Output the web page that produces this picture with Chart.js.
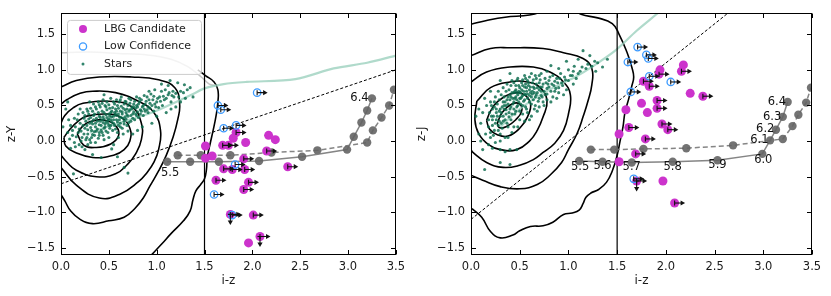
<!DOCTYPE html>
<html><head><meta charset="utf-8">
<script src="https://cdn.jsdelivr.net/npm/chart.js@4.4.0/dist/chart.umd.min.js"></script>
<style>
body{margin:0;background:#fff;width:831px;height:296px;overflow:hidden;position:relative}
canvas{position:absolute;top:0}
#c1{left:0}#c2{left:410px}
</style></head>
<body>
<canvas id="c1" width="410" height="296"></canvas>
<canvas id="c2" width="421" height="296"></canvas>
<script>
// ---------- axes ----------
const xTicks=[0,0.5,1,1.5,2,2.5,3,3.5];
const yTicks=[-1.5,-1,-0.5,0,0.5,1,1.5];
const xTitle='i-z';
const yTitleLeft='z-Y';
const yTitleRight='z-J';
const legendLabels=['LBG Candidate','Low Confidence','Stars'];
const colourCut=1.5;

// ---------- left panel (z-Y) ----------
const L_lbg=[[1.83,0.12],[1.80,0.04],[1.93,-0.02],[2.17,0.08],[2.24,0.02],[1.69,-0.06],[1.75,-0.06],[1.51,-0.07],[2.15,-0.14],[1.58,-0.21],[1.51,-0.24],[1.91,-0.25],[1.70,-0.39],[1.79,-0.40],[1.92,-0.40],[2.37,-0.36],[1.62,-0.55],[1.96,-0.58],[1.91,-0.68],[1.77,-1.03],[2.01,-1.04],[2.08,-1.34],[1.96,-1.43]];
const L_lbgLim=['r','','','','','r','r','','r','','','r','r','r','r','r','r','r','r','rd','r','rd',''];
const L_low=[[2.05,0.68],[1.64,0.50],[1.67,0.44],[1.70,0.18],[1.83,0.22],[1.82,-0.33],[1.60,-0.75],[1.79,-1.04]];
const L_lowLim=['r','r','r','r','r','r','r','r'];
const L_solid=[[1.11,-0.29],[1.35,-0.29],[1.65,-0.29],[2.07,-0.28],[2.52,-0.22],[2.99,-0.12],[3.06,0.06],[3.14,0.26],[3.20,0.43],[3.25,0.60]];
const L_dashed=[[1.22,-0.20],[1.46,-0.20],[1.77,-0.20],[2.20,-0.16],[2.68,-0.13],[3.20,-0.02],[3.26,0.15],[3.35,0.33],[3.43,0.50],[3.48,0.72]];
const L_zLab=[['5.5',1.14,-0.45],['6.4',3.12,0.61]];
const L_cut=[[0,-0.6],[3.5,1.0]];
const L_green=[[0.30,0.12],[0.60,0.25],[0.95,0.40],[1.22,0.56],[1.38,0.66],[1.50,0.74],[1.70,0.80],[1.94,0.83],[2.45,0.87],[2.85,1.02],[3.20,1.10],[3.50,1.20]];
const L_grey=[[0,1.24],[0.30,1.25],[0.60,1.23],[0.90,1.21],[1.15,1.15],[1.32,1.05],[1.45,0.92],[1.55,0.80],[1.62,0.78]];
const L_cont0=[[0.93,-1.62],[1.05,-1.45],[1.15,-1.30],[1.28,-1.12],[1.35,-0.98],[1.38,-0.82],[1.41,-0.70],[1.46,-0.61],[1.50,-0.53],[1.52,-0.40],[1.53,-0.22],[1.56,-0.03],[1.59,0.15],[1.62,0.35],[1.64,0.55],[1.64,0.72],[1.60,0.83],[1.51,0.92],[1.43,1.00]];
const L_cont1=[[0,0.76],[0.16,0.85],[0.40,0.90],[0.74,0.90],[1.02,0.86],[1.19,0.75],[1.24,0.52],[1.22,0.30],[1.17,0.05],[1.10,-0.20],[1.02,-0.42],[0.93,-0.63],[0.86,-0.80],[0.77,-0.95],[0.66,-1.07],[0.50,-1.12],[0.33,-1.16],[0.20,-1.10],[0.10,-0.98],[0.04,-0.84],[0,-0.75]];
const L_cont2=[[0,0.52],[0.06,0.58],[0.20,0.67],[0.33,0.70],[0.57,0.68],[0.81,0.56],[0.97,0.40],[1.04,0.15],[1.02,-0.12],[0.97,-0.30],[0.90,-0.44],[0.81,-0.57],[0.61,-0.75],[0.40,-0.80],[0.16,-0.62],[0,-0.37]];
const L_cont3=[[0,0.25],[0.04,0.36],[0.13,0.47],[0.23,0.53],[0.50,0.56],[0.74,0.48],[0.84,0.25],[0.84,0.02],[0.78,-0.18],[0.70,-0.32],[0.57,-0.46],[0.37,-0.50],[0.16,-0.41],[0.05,-0.28],[0,-0.20]];
const L_cont4=[[0.03,0.05],[0.09,0.16],[0.18,0.28],[0.27,0.35],[0.47,0.38],[0.63,0.33],[0.72,0.18],[0.72,0.00],[0.66,-0.12],[0.55,-0.20],[0.33,-0.23],[0.15,-0.16],[0.05,-0.07],[0.03,0.05]];
const L_cont5=[[0.17,0.10],[0.22,0.20],[0.30,0.27],[0.47,0.29],[0.58,0.20],[0.60,0.07],[0.52,-0.04],[0.37,-0.09],[0.24,-0.06],[0.17,0.10]];
const L_stars=[[0.18,0.12],[0.22,0.05],[0.25,0.18],[0.28,0.10],[0.30,0.25],[0.32,0.15],[0.34,0.30],[0.35,0.08],[0.36,0.20],[0.38,0.28],[0.40,0.12],[0.40,0.35],[0.42,0.22],[0.43,0.30],[0.45,0.18],[0.45,0.40],[0.47,0.27],[0.48,0.33],[0.50,0.22],[0.50,0.38],[0.52,0.30],[0.53,0.42],[0.55,0.25],[0.55,0.35],[0.57,0.45],[0.58,0.30],[0.60,0.38],[0.60,0.22],[0.62,0.42],[0.63,0.33],[0.65,0.46],[0.66,0.28],[0.68,0.40],[0.70,0.35],[0.70,0.50],[0.72,0.44],[0.75,0.38],[0.76,0.52],[0.78,0.46],[0.80,0.41],[0.82,0.55],[0.85,0.48],[0.88,0.52],[0.90,0.44],[0.92,0.58],[0.95,0.50],[1.00,0.55],[1.03,0.62],[1.08,0.58],[1.12,0.65],[1.18,0.62],[1.25,0.70],[1.32,0.72],
[0.20,0.25],[0.24,0.32],[0.26,0.02],[0.29,0.38],[0.31,-0.02],[0.33,0.42],[0.37,0.45],[0.39,0.04],[0.41,0.48],[0.44,0.08],[0.46,0.50],[0.49,0.12],[0.51,0.46],[0.54,0.15],[0.56,0.52],[0.59,0.12],[0.61,0.55],[0.64,0.18],[0.67,0.56],[0.69,0.22],[0.73,0.28],[0.77,0.30],[0.81,0.33],[0.86,0.36],[0.91,0.40],[0.97,0.42],[1.02,0.47],[1.06,0.50],[1.15,0.55],
[0.15,0.20],[0.12,0.08],[0.14,-0.02],[0.17,0.30],[0.19,-0.05],[0.23,0.40],[0.27,0.45],[0.34,0.52],[0.39,0.55],[0.44,0.58],[0.48,0.55],[0.52,0.60],[0.58,0.58],[0.63,0.62],[0.71,0.60],[0.79,0.62],[0.87,0.64],[0.94,0.66],[1.05,0.70],
[0.27,0.22],[0.33,0.24],[0.37,0.14],[0.41,0.28],[0.44,0.34],[0.46,0.24],[0.49,0.29],[0.51,0.35],[0.53,0.27],[0.56,0.40],[0.58,0.36],[0.61,0.30],[0.64,0.38],[0.67,0.34],[0.69,0.45],[0.74,0.48],[0.79,0.50],[0.84,0.42],[0.31,0.33],[0.35,0.38],
[0.08,0.30],[0.05,0.45],[0.10,-0.10],[0.25,-0.12],[0.33,-0.19],[0.42,-0.23],[0.53,-0.11],[0.55,-0.05],[0.59,-0.22],[0.66,-0.37],[0.70,-0.45],[0.13,-0.46],[0.75,0.10],[0.85,0.20],[0.95,0.25],[1.10,0.40],[1.20,0.48],[1.14,0.85],[1.29,0.79],[1.38,0.62],[1.05,0.80],[0.98,0.72],[0.60,0.05],[0.80,0.15],[1.25,0.55],[0.45,0.65],[0.30,0.55],[0.02,0.20],[0.07,0.55]];
const L_stars2=[[0.21,0.14],[0.23,0.22],[0.26,0.28],[0.28,0.16],[0.29,0.31],[0.31,0.19],[0.32,0.27],[0.33,0.09],[0.34,0.36],[0.36,0.25],[0.37,0.32],[0.38,0.17],[0.39,0.40],[0.40,0.23],[0.41,0.33],[0.42,0.15],[0.43,0.42],[0.44,0.26],[0.45,0.31],[0.46,0.20],[0.47,0.37],[0.48,0.44],[0.49,0.25],[0.50,0.31],[0.51,0.18],[0.52,0.40],[0.53,0.34],[0.54,0.47],[0.55,0.30],[0.56,0.22],[0.57,0.38],[0.58,0.42],[0.59,0.27],[0.60,0.46],[0.61,0.34],[0.62,0.25],[0.63,0.49],[0.64,0.41],[0.65,0.32],[0.66,0.52],[0.67,0.44],[0.68,0.31],[0.69,0.37],[0.71,0.42],[0.72,0.53],[0.73,0.36],[0.74,0.45],[0.76,0.41],[0.77,0.56],[0.78,0.38],[0.80,0.48],[0.81,0.52],[0.83,0.44],[0.84,0.58],[0.86,0.50],[0.87,0.45],[0.89,0.56],[0.91,0.48],[0.93,0.53],[0.96,0.58],[0.98,0.52],[1.01,0.60],[1.04,0.56],[1.07,0.63],[1.10,0.60],[1.13,0.68],[1.16,0.64],[1.20,0.67],[1.23,0.62],[1.28,0.68],
[0.16,0.06],[0.19,0.17],[0.21,0.00],[0.24,0.10],[0.27,0.05],[0.30,0.02],[0.32,0.05],[0.35,0.13],[0.40,0.08],[0.43,0.12],[0.47,0.14],[0.52,0.22],[0.57,0.17],[0.62,0.20],[0.66,0.24],[0.71,0.26],[0.75,0.32],[0.79,0.36],[0.83,0.38],[0.88,0.42],[0.93,0.46],[0.99,0.48],
[0.25,0.36],[0.28,0.42],[0.31,0.46],[0.36,0.48],[0.40,0.51],[0.43,0.53],[0.47,0.48],[0.50,0.51],[0.55,0.55],[0.59,0.50],[0.62,0.58],[0.68,0.55],[0.73,0.58],[0.76,0.48],[0.82,0.60],[0.90,0.62],[0.97,0.63],[1.09,0.72],[1.17,0.70],
[0.12,0.15],[0.10,0.22],[0.14,0.32],[0.18,0.38],[0.20,0.45],[0.09,0.03],[0.07,0.12],[0.15,-0.08],[0.22,-0.08],[0.28,-0.05],[0.36,-0.02],[0.45,0.02],[0.50,0.05],[0.65,0.10],[0.70,0.14],[1.00,0.35],[1.15,0.45],[1.30,0.60],[1.35,0.75],[1.22,0.82],[0.92,0.70],[1.12,0.78]];

// ---------- right panel (z-J) ----------
const R_lbg=[[2.18,1.07],[2.16,0.98],[1.94,1.00],[1.93,0.94],[1.77,0.84],[1.83,0.77],[2.25,0.67],[2.38,0.63],[1.75,0.53],[1.91,0.57],[1.91,0.46],[1.81,0.40],[1.59,0.44],[1.62,0.19],[1.96,0.24],[2.02,0.16],[1.52,0.10],[1.79,0.03],[1.69,-0.18],[1.52,-0.29],[1.70,-0.56],[1.97,-0.56],[2.09,-0.87]];
const R_lbgLim=['','r','','r','r','r','','r','','r','r','','','r','r','r','','r','r','','rd','','r'];
const R_low=[[1.71,1.32],[1.80,1.21],[1.82,1.16],[1.61,1.11],[1.83,0.91],[2.05,0.83],[1.64,0.69],[1.67,-0.53]];
const R_lowLim=['r','r','r','r','r','r','r','r'];
const R_solid=[[1.11,-0.28],[1.35,-0.29],[1.65,-0.30],[2.07,-0.29],[2.53,-0.27],[2.99,-0.18],[3.07,0.01],[3.13,0.16],[3.20,0.34],[3.25,0.55]];
const R_dashed=[[1.23,-0.12],[1.47,-0.12],[1.77,-0.11],[2.21,-0.10],[2.69,-0.06],[3.20,0.03],[3.30,0.21],[3.36,0.37],[3.44,0.54],[3.49,0.75]];
const R_zLab=[['5.5',1.12,-0.36],['5.6',1.35,-0.35],['5.7',1.65,-0.37],['5.8',2.07,-0.37],['5.9',2.53,-0.34],['6.0',3.00,-0.26],['6.1',2.96,0.02],['6.2',3.02,0.17],['6.3',3.09,0.34],['6.4',3.14,0.55]];
const R_cut=[[0,-1.1],[2.64,1.8]];
const R_green=[[0.30,0.20],[0.50,0.45],[0.75,0.68],[0.95,0.82],[1.07,0.90],[1.25,1.05],[1.48,1.27],[1.70,1.55],[1.92,1.80],[2.00,1.90]];
const R_cont0=[[0,1.64],[0.15,1.69],[0.35,1.74],[0.60,1.77],[0.75,1.83],[0.90,1.92],[1.05,1.86],[1.13,1.78],[1.30,1.73],[1.45,1.65],[1.52,1.50],[1.60,1.25],[1.65,1.04],[1.67,0.90],[1.65,0.77],[1.62,0.60],[1.58,0.40],[1.56,0.20],[1.53,0.00],[1.50,-0.20],[1.45,-0.42],[1.39,-0.58],[1.31,-0.68],[1.23,-0.73],[1.18,-0.79],[1.15,-0.88],[1.11,-0.97],[1.04,-1.01],[0.95,-1.03],[0.84,-1.14],[0.74,-1.19],[0.61,-1.20],[0.50,-1.26],[0.43,-1.32],[0.30,-1.36],[0.20,-1.27],[0.11,-1.07],[0.01,-0.95]];
const R_cont1=[[0,1.20],[0.20,1.30],[0.40,1.31],[0.74,1.30],[0.95,1.24],[1.15,1.16],[1.24,1.02],[1.24,0.79],[1.20,0.56],[1.15,0.34],[1.09,0.11],[1.00,-0.12],[0.93,-0.30],[0.81,-0.48],[0.68,-0.61],[0.50,-0.67],[0.30,-0.64],[0.12,-0.55],[0,-0.48]];
const R_cont2=[[0,0.83],[0.16,0.97],[0.40,1.04],[0.64,1.04],[0.81,0.97],[0.95,0.83],[1.02,0.65],[1.00,0.38],[0.95,0.15],[0.86,-0.03],[0.74,-0.16],[0.64,-0.26],[0.50,-0.34],[0.33,-0.37],[0.16,-0.30],[0.02,-0.16],[0,-0.12]];
const R_cont3=[[0.06,0.56],[0.20,0.75],[0.40,0.83],[0.58,0.83],[0.71,0.75],[0.78,0.56],[0.74,0.34],[0.68,0.15],[0.60,0.00],[0.47,-0.12],[0.30,-0.12],[0.18,-0.05],[0.08,0.10],[0.04,0.30],[0.06,0.56]];
const R_cont4=[[0.16,0.29],[0.20,0.42],[0.27,0.55],[0.40,0.66],[0.53,0.66],[0.61,0.53],[0.58,0.34],[0.50,0.18],[0.38,0.07],[0.27,0.09],[0.19,0.17],[0.16,0.29]];
const R_cont5=[[0.27,0.25],[0.32,0.40],[0.42,0.52],[0.50,0.52],[0.52,0.42],[0.46,0.30],[0.36,0.20],[0.29,0.19],[0.27,0.25]];
const R_stars=[[0.15,0.10],[0.18,0.20],[0.20,0.05],[0.22,0.30],[0.24,0.15],[0.26,0.40],[0.28,0.22],[0.30,0.35],[0.30,0.10],[0.32,0.48],[0.33,0.28],[0.35,0.55],[0.36,0.38],[0.38,0.20],[0.38,0.62],[0.40,0.45],[0.41,0.30],[0.42,0.68],[0.43,0.52],[0.45,0.60],[0.45,0.38],[0.46,0.72],[0.47,0.48],[0.48,0.65],[0.49,0.55],[0.50,0.42],[0.50,0.75],[0.52,0.62],[0.53,0.50],[0.54,0.70],[0.55,0.58],[0.56,0.80],[0.57,0.45],[0.58,0.66],[0.60,0.72],[0.60,0.55],[0.62,0.62],[0.63,0.82],[0.65,0.68],[0.66,0.50],[0.68,0.75],[0.70,0.60],[0.72,0.70],[0.74,0.80],[0.76,0.65],[0.78,0.74],[0.80,0.85],[0.82,0.70],[0.85,0.78],[0.88,0.88],[0.90,0.75],[0.93,0.82],[0.96,0.90],[1.00,0.85],[1.04,0.92],[1.08,0.88],[1.12,0.98],[1.18,1.02],[1.24,1.05],[1.30,1.10],[1.35,1.04],[1.15,1.27],[0.82,1.06],
[0.10,0.25],[0.12,0.40],[0.16,0.50],[0.20,0.55],[0.25,0.62],[0.28,0.70],[0.33,0.75],[0.37,0.80],[0.42,0.85],[0.48,0.88],[0.55,0.92],[0.62,0.95],[0.70,0.92],[0.78,0.98],[0.35,0.05],[0.42,0.12],[0.48,0.20],[0.55,0.28],[0.62,0.35],[0.68,0.42],[0.75,0.50],[0.82,0.55],[0.88,0.60],[0.95,0.65],[0.25,-0.02],[0.18,-0.05],[0.12,-0.12],[0.30,-0.12],[0.40,-0.12],[0.47,-0.12],[0.14,-0.40],[0.30,-0.30],[0.40,-0.33],[0.08,0.10],[0.05,0.35],[0.22,0.45],[0.27,0.52],[0.34,0.62],[0.40,0.58],[0.46,0.78],[0.52,0.82],[0.58,0.85],[0.64,0.58],[0.70,0.82],[0.76,0.88],[0.84,0.92],[0.92,0.95],[1.00,1.00],[1.06,1.05],[0.30,0.45],[0.36,0.50],[0.44,0.45],[0.51,0.68],[0.57,0.75],[0.63,0.70],[0.67,0.88],[0.73,0.62],[0.79,0.80],[0.86,0.70],
[0.26,0.30],[0.29,0.42],[0.31,0.25],[0.34,0.45],[0.37,0.58],[0.39,0.40],[0.41,0.62],[0.44,0.68],[0.47,0.58],[0.49,0.70],[0.51,0.60],[0.53,0.78],[0.56,0.65],[0.59,0.78],[0.61,0.68],[0.64,0.76],[0.67,0.65],[0.71,0.76],[0.21,0.35],[0.24,0.48]];
const R_stars2=[[0.20,0.12],[0.22,0.22],[0.23,0.08],[0.25,0.25],[0.27,0.35],[0.28,0.15],[0.29,0.28],[0.31,0.40],[0.32,0.18],[0.33,0.35],[0.34,0.50],[0.35,0.30],[0.36,0.44],[0.37,0.25],[0.38,0.52],[0.39,0.34],[0.40,0.65],[0.41,0.48],[0.42,0.38],[0.43,0.60],[0.44,0.55],[0.45,0.70],[0.46,0.42],[0.46,0.62],[0.47,0.68],[0.48,0.50],[0.49,0.78],[0.50,0.60],[0.51,0.52],[0.52,0.72],[0.53,0.64],[0.54,0.56],[0.55,0.76],[0.55,0.66],[0.56,0.48],[0.57,0.70],[0.58,0.60],[0.59,0.82],[0.60,0.64],[0.61,0.76],[0.62,0.52],[0.63,0.66],[0.64,0.86],[0.65,0.74],[0.66,0.62],[0.67,0.80],[0.68,0.68],[0.69,0.56],[0.70,0.72],[0.71,0.86],[0.72,0.64],[0.73,0.76],[0.75,0.70],[0.77,0.82],[0.78,0.66],[0.80,0.76],[0.81,0.90],[0.83,0.80],[0.86,0.84],[0.87,0.74],[0.89,0.82],[0.91,0.88],[0.94,0.78],[0.97,0.86],[1.02,0.92],[1.05,0.98],[1.10,0.95],[1.14,1.04],[1.20,1.08],[1.27,1.12],
[0.18,0.30],[0.19,0.40],[0.21,0.50],[0.23,0.35],[0.24,0.55],[0.26,0.45],[0.29,0.58],[0.31,0.65],[0.33,0.55],[0.36,0.70],[0.39,0.72],[0.41,0.78],[0.44,0.82],[0.47,0.85],[0.50,0.68],[0.53,0.86],[0.56,0.88],[0.60,0.90],[0.66,0.92],[0.72,0.95],
[0.30,0.00],[0.38,0.05],[0.44,0.20],[0.50,0.30],[0.53,0.38],[0.58,0.40],[0.60,0.30],[0.65,0.45],[0.70,0.48],[0.74,0.55],[0.78,0.58],[0.84,0.62],[0.90,0.68],[0.98,0.72],[1.05,0.80],[0.22,-0.10],[0.35,-0.15],[0.10,0.00],[0.08,0.45],[0.14,0.60],[0.20,0.70],[0.30,0.85],[0.40,0.95],[0.90,1.02],[1.10,1.15],[1.22,1.20],[1.28,0.98],[1.40,1.15],[0.98,1.12]];

// ---------- helpers ----------
const pts=a=>a.map(p=>({x:p[0],y:p[1]}));
const fmt=v=>(Math.abs(v)<1e-9?0:v).toFixed(1).replace('-','\u2212');
const FONT='DejaVu Sans';

const extras={
  id:'extras',
  afterDatasetsDraw(chart,args,opts){
    const ctx=chart.ctx, xs=chart.scales.x, ys=chart.scales.y, ca=chart.chartArea;
    ctx.save();
    ctx.beginPath();ctx.rect(ca.left,ca.top,ca.right-ca.left,ca.bottom-ca.top);ctx.clip();
    ctx.strokeStyle='#111';ctx.fillStyle='#111';ctx.lineWidth=1.1;
    chart.data.datasets.forEach((ds,di)=>{
      if(!ds.limits) return;
      const meta=chart.getDatasetMeta(di);
      meta.data.forEach((el,i)=>{
        const f=ds.limits[i]||''; const x=el.x,y=el.y;
        if(f.includes('r')){
          ctx.beginPath();ctx.moveTo(x,y);ctx.lineTo(x+7,y);ctx.stroke();
          ctx.beginPath();ctx.moveTo(x,y-2.5);ctx.lineTo(x,y+2.5);ctx.stroke();
          ctx.beginPath();ctx.moveTo(x+10.5,y);ctx.lineTo(x+6,y-2.6);ctx.lineTo(x+6,y+2.6);ctx.closePath();ctx.fill();
        }
        if(f.includes('d')){
          ctx.beginPath();ctx.moveTo(x,y);ctx.lineTo(x,y+7);ctx.stroke();
          ctx.beginPath();ctx.moveTo(x-2.5,y);ctx.lineTo(x+2.5,y);ctx.stroke();
          ctx.beginPath();ctx.moveTo(x,y+10.5);ctx.lineTo(x-2.6,y+6);ctx.lineTo(x+2.6,y+6);ctx.closePath();ctx.fill();
        }
      });
    });
    ctx.fillStyle='#111';ctx.font='11.5px "'+FONT+'"';ctx.textAlign='center';ctx.textBaseline='middle';
    (opts.zLabels||[]).forEach(l=>{ctx.fillText(l[0],xs.getPixelForValue(l[1]),ys.getPixelForValue(l[2]));});
    ctx.restore();
    ctx.save();
    ctx.strokeStyle='#000';ctx.lineWidth=1;
    const L=Math.round(ca.left)+0.5,R=Math.round(ca.right)-0.5,T=Math.round(ca.top)+0.5,B=Math.round(ca.bottom)-0.5;
    ctx.strokeRect(L,T,R-L,B-T);
    const tl=4.5;
    ctx.beginPath();
    xTicks.forEach(v=>{const p=Math.round(xs.getPixelForValue(v))+0.5;ctx.moveTo(p,B);ctx.lineTo(p,B-tl);ctx.moveTo(p,T);ctx.lineTo(p,T+tl);});
    yTicks.forEach(v=>{const p=Math.round(ys.getPixelForValue(v))+0.5;ctx.moveTo(L,p);ctx.lineTo(L+tl,p);ctx.moveTo(R,p);ctx.lineTo(R-tl,p);});
    ctx.stroke();
    ctx.restore();
    if(opts.legend){
      const x0=ca.left+6,y0=ca.top+7,w=134,h=54;
      ctx.save();
      ctx.fillStyle='rgba(255,255,255,0.8)';ctx.strokeStyle='#cccccc';ctx.lineWidth=1;
      ctx.beginPath();ctx.roundRect(x0+0.5,y0+0.5,w,h,3);ctx.fill();ctx.stroke();
      ctx.font='11px "'+FONT+'"';ctx.textAlign='left';ctx.textBaseline='middle';
      const rows=[y0+9,y0+26.5,y0+44];
      const mx=x0+16,tx=x0+37;
      ctx.fillStyle='rgba(204,51,204,1)';ctx.beginPath();ctx.arc(mx,rows[0],4,0,Math.PI*2);ctx.fill();
      ctx.strokeStyle='#3d9bff';ctx.lineWidth=1.3;ctx.beginPath();ctx.arc(mx,rows[1],3.6,0,Math.PI*2);ctx.stroke();
      ctx.fillStyle='rgba(14,112,84,0.85)';ctx.beginPath();ctx.arc(mx,rows[2],1.5,0,Math.PI*2);ctx.fill();
      ctx.fillStyle='#222';
      legendLabels.forEach((t,i)=>ctx.fillText(t,tx,rows[i]));
      ctx.restore();
    }
  }
};

function buildPanel(canvasId, yTitle, P, withLegend, padRight){
  const contour=d=>({data:pts(d),showLine:true,borderColor:'#000',borderWidth:1.6,tension:0.45,pointRadius:0,order:9});
  const starStyle={pointRadius:1.55,pointBackgroundColor:'rgba(8,106,76,0.82)',pointBorderWidth:0,order:5};
  const datasets=[
    {label:legendLabels[0],data:pts(P.lbg),limits:P.lbgLim,pointRadius:4.5,pointBackgroundColor:'rgba(204,51,204,1)',pointBorderWidth:0,order:1},
    {label:legendLabels[1],data:pts(P.low),limits:P.lowLim,pointRadius:3.7,pointBackgroundColor:'rgba(0,0,0,0)',pointBorderColor:'#3d9bff',pointBorderWidth:1.3,order:0},
    {label:'solid track',data:pts(P.solid),showLine:true,borderColor:'rgba(120,120,120,0.9)',borderWidth:1.5,pointRadius:4.2,pointBackgroundColor:'rgba(100,100,100,0.9)',pointBorderWidth:0,order:3},
    {label:'dashed track',data:pts(P.dashed),showLine:true,borderDash:[5,3],borderColor:'rgba(120,120,120,0.9)',borderWidth:1.5,pointRadius:4.2,pointBackgroundColor:'rgba(100,100,100,0.9)',pointBorderWidth:0,order:3},
    {label:'cut',data:pts(P.cut),showLine:true,borderDash:[3,2],borderColor:'#000',borderWidth:1,pointRadius:0,order:4},
    {label:'i-z cut',data:pts([[colourCut,-1.6],[colourCut,1.8]]),showLine:true,borderColor:'#000',borderWidth:1.2,pointRadius:0,order:4},
    {label:'track',data:pts(P.green),showLine:true,borderColor:'rgba(150,205,185,0.75)',borderWidth:2.2,tension:0.3,pointRadius:0,order:6},
    Object.assign({label:legendLabels[2],data:pts(P.stars)},starStyle),
    Object.assign({label:legendLabels[2]+' (core)',data:pts(P.stars2)},starStyle),
  ];
  if(P.grey) datasets.push({label:'grey',data:pts(P.grey),showLine:true,borderColor:'#c4c4c4',borderWidth:1.5,tension:0.3,pointRadius:0,order:7});
  P.contours.forEach(c=>datasets.push(contour(c)));
  const tickFont={family:FONT,size:11.5};
  return new Chart(document.getElementById(canvasId),{
    type:'scatter',
    data:{datasets},
    plugins:[extras],
    options:{
      responsive:false,animation:false,events:[],
      layout:{padding:{top:6,right:padRight,left:0,bottom:0}},
      plugins:{legend:{display:false},tooltip:{enabled:false},extras:{legend:withLegend,zLabels:P.zLab}},
      scales:{
        x:{type:'linear',min:0,max:3.5,
          afterBuildTicks:s=>{s.ticks=xTicks.map(v=>({value:v}));},
          afterFit:s=>{s.height=41;},
          grid:{display:false,drawTicks:false},border:{display:false},
          ticks:{padding:5,color:'#1a1a1a',font:tickFont,maxRotation:0,autoSkip:false,callback:v=>fmt(v)},
          title:{display:true,text:xTitle,color:'#1a1a1a',font:{family:FONT,size:12},padding:{top:0,bottom:8}}},
        y:{type:'linear',min:-1.6,max:1.8,
          afterBuildTicks:s=>{s.ticks=yTicks.map(v=>({value:v}));},
          afterFit:s=>{s.width=61;},
          grid:{display:false,drawTicks:false},border:{display:false},
          ticks:{padding:6,color:'#1a1a1a',font:tickFont,autoSkip:false,callback:v=>fmt(v)},
          title:{display:true,text:yTitle,color:'#1a1a1a',font:{family:FONT,size:12},padding:{top:5,bottom:0}}}
      }
    }
  });
}

buildPanel('c1',yTitleLeft,{lbg:L_lbg,lbgLim:L_lbgLim,low:L_low,lowLim:L_lowLim,solid:L_solid,dashed:L_dashed,cut:L_cut,green:L_green,grey:L_grey,stars:L_stars,stars2:L_stars2,zLab:L_zLab,
  contours:[L_cont0,L_cont1,L_cont2,L_cont3,L_cont4,L_cont5]},true,8);
buildPanel('c2',yTitleRight,{lbg:R_lbg,lbgLim:R_lbgLim,low:R_low,lowLim:R_lowLim,solid:R_solid,dashed:R_dashed,cut:R_cut,green:R_green,grey:null,stars:R_stars,stars2:R_stars2,zLab:R_zLab,
  contours:[R_cont0,R_cont1,R_cont2,R_cont3,R_cont4,R_cont5]},false,19);
</script>
</body></html>
